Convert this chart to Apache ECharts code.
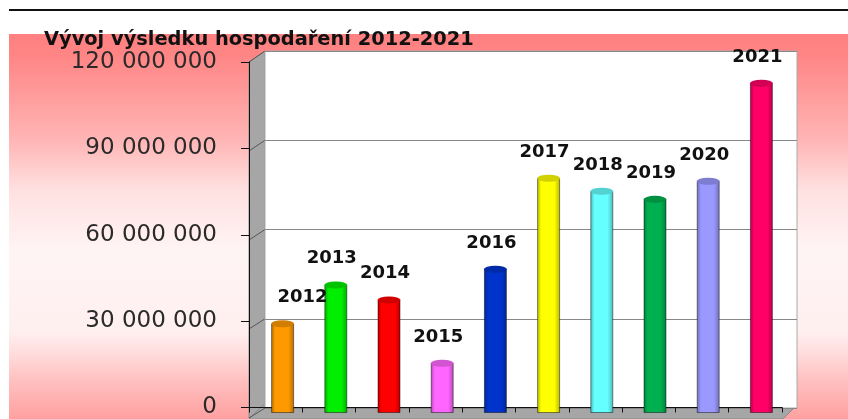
<!DOCTYPE html>
<html>
<head>
<meta charset="utf-8">
<script src="https://cdn.jsdelivr.net/npm/echarts@6/dist/echarts.min.js"></script>
<style>
  html, body { margin: 0; padding: 0; background: #fff; }
  #chart { width: 848px; height: 419px; }
</style>
</head>
<body>
<div id="chart"></div>
<script>
const years = ['2012', '2013', '2014', '2015', '2016', '2017', '2018', '2019', '2020', '2021']
const result = [30000000, 43000000, 38000000, 16800000, 48300000, 78800000, 74400000, 71700000, 77800000, 110600000]
const barColors = ['#ff9900', '#00ee00', '#ff0000', '#ff66ff', '#0033cc', '#ffff00', '#66ffff', '#00b050', '#9999ff', '#ff0066']
const yMin = 0
const yMax = 120000000
const yStep = 30000000

// 3d-ish frame: back wall, front axis, bars in the middle
const back = { left: 265, top: 51, width: 532, height: 357 }
const front = { left: 249, top: 62, width: 533, height: 356 }
const mid = { left: 256, top: 55, width: 532, height: 358 }

function shade(hex, f) {
  const n = parseInt(hex.slice(1), 16)
  const c = [(n >> 16) & 255, (n >> 8) & 255, n & 255].map(v => Math.max(0, Math.min(255, Math.round(f < 1 ? v * f : v + (255 - v) * (f - 1)))))
  return 'rgb(' + c.join(',') + ')'
}

function fmt(v) {
  return String(v).replace(/\B(?=(\d{3})+(?!\d))/g, ' ')
}

const chart = echarts.init(document.getElementById('chart'))

// background, left wall, floor, diagonal tick connectors
const deco = []
deco.push({
  type: 'rect', z: -10, silent: true,
  shape: { x: 9, y: 34, width: 839, height: 385 },
  style: {
    fill: new echarts.graphic.LinearGradient(0, 0, 0, 1, [
      { offset: 0, color: '#ff8080' },
      { offset: 0.055, color: '#ff8585' },
      { offset: 0.275, color: '#ffb5b5' },
      { offset: 0.405, color: '#ffe0e0' },
      { offset: 0.56, color: '#fff4f4' },
      { offset: 0.77, color: '#fff0f0' },
      { offset: 0.82, color: '#ffe0e0' },
      { offset: 0.9, color: '#ffc0c0' },
      { offset: 1, color: '#ffa0a0' }
    ])
  }
})
deco.push({
  type: 'line', silent: true,
  shape: { x1: 9, y1: 10, x2: 848, y2: 10 },
  style: { stroke: '#111', lineWidth: 2 }
})
deco.push({
  type: 'polygon', z: -5, silent: true,
  shape: { points: [[front.left, front.top], [back.left, back.top], [back.left, back.top + back.height], [front.left, front.top + front.height]] },
  style: { fill: '#a6a6a6', stroke: '#8a8a8a', lineWidth: 1 }
})
deco.push({
  type: 'polygon', z: -5, silent: true,
  shape: { points: [[front.left, 419], [back.left - 2, back.top + back.height - 3], [back.left + back.width, back.top + back.height - 3], [front.left + front.width + 1, 419]] },
  style: { fill: '#a6a6a6', stroke: '#8a8a8a', lineWidth: 1 }
})
for (let v = yMin; v <= yMax; v += yStep) {
  const t = (v - yMin) / (yMax - yMin)
  deco.push({
    type: 'line', z: -4, silent: true,
    shape: {
      x1: front.left, y1: front.top + front.height * (1 - t),
      x2: back.left, y2: back.top + back.height * (1 - t)
    },
    style: { stroke: '#555', lineWidth: 1 }
  })
}

const labelFont = { fontFamily: 'DejaVu Sans', fontWeight: 'bold', fontSize: 18, color: '#111' }

chart.setOption({
  animation: false,
  title: {
    text: 'Vývoj výsledku hospodaření 2012-2021',
    left: 44,
    top: 30,
    padding: 0,
    textStyle: { fontFamily: 'DejaVu Sans', fontWeight: 'bold', fontSize: 19.4, color: '#111' }
  },
  graphic: deco,
  grid: [
    Object.assign({ show: true, backgroundColor: '#fff', borderColor: '#aaa', borderWidth: 1 }, back),
    front,
    mid
  ],
  xAxis: [
    { gridIndex: 0, type: 'category', data: years, show: false },
    {
      gridIndex: 1, type: 'category', data: years,
      axisLine: { lineStyle: { color: '#111' } },
      axisTick: { show: true, length: 5, lineStyle: { color: '#111' } },
      axisLabel: { show: false }
    },
    { gridIndex: 2, type: 'category', data: years, show: false }
  ],
  yAxis: [
    {
      gridIndex: 0, type: 'value', min: yMin, max: yMax, interval: yStep,
      axisLine: { show: false }, axisTick: { show: false }, axisLabel: { show: false },
      splitLine: { lineStyle: { color: '#888', width: 1 } }
    },
    {
      gridIndex: 1, type: 'value', min: yMin, max: yMax, interval: yStep,
      axisLine: { show: true, lineStyle: { color: '#111' } },
      axisTick: { show: true, length: 8, lineStyle: { color: '#111' } },
      splitLine: { show: false },
      axisLabel: { margin: 32, fontFamily: 'DejaVu Sans', fontSize: 23, color: '#2a2a2a', formatter: fmt }
    },
    { gridIndex: 2, type: 'value', min: yMin, max: yMax, interval: yStep, show: false }
  ],
  series: [
    {
      type: 'bar',
      xAxisIndex: 2,
      yAxisIndex: 2,
      barWidth: 23,
      z: 3,
      data: result.map((v, i) => ({
        value: v,
        itemStyle: {
          color: new echarts.graphic.LinearGradient(0, 0, 1, 0, [
            { offset: 0, color: shade(barColors[i], 0.7) },
            { offset: 0.18, color: barColors[i] },
            { offset: 0.75, color: barColors[i] },
            { offset: 1, color: shade(barColors[i], 0.72) }
          ]),
          borderColor: 'rgba(0,0,0,0.45)',
          borderWidth: 1
        },
        label: i === 0 ? { offset: [20, 0] } : { offset: [-4, 0] }
      })),
      label: Object.assign({ show: true, position: 'top', distance: 17, formatter: '{b}' }, labelFont)
    },
    {
      type: 'pictorialBar',
      xAxisIndex: 2,
      yAxisIndex: 2,
      symbol: 'circle',
      symbolSize: [23, 7],
      symbolPosition: 'end',
      symbolOffset: [0, '-50%'],
      z: 4,
      data: result.map((v, i) => ({
        value: v,
        itemStyle: { color: shade(barColors[i], 0.82), borderColor: 'rgba(0,0,0,0.55)', borderWidth: 1 }
      }))
    }
  ]
})
</script>
</body>
</html>
